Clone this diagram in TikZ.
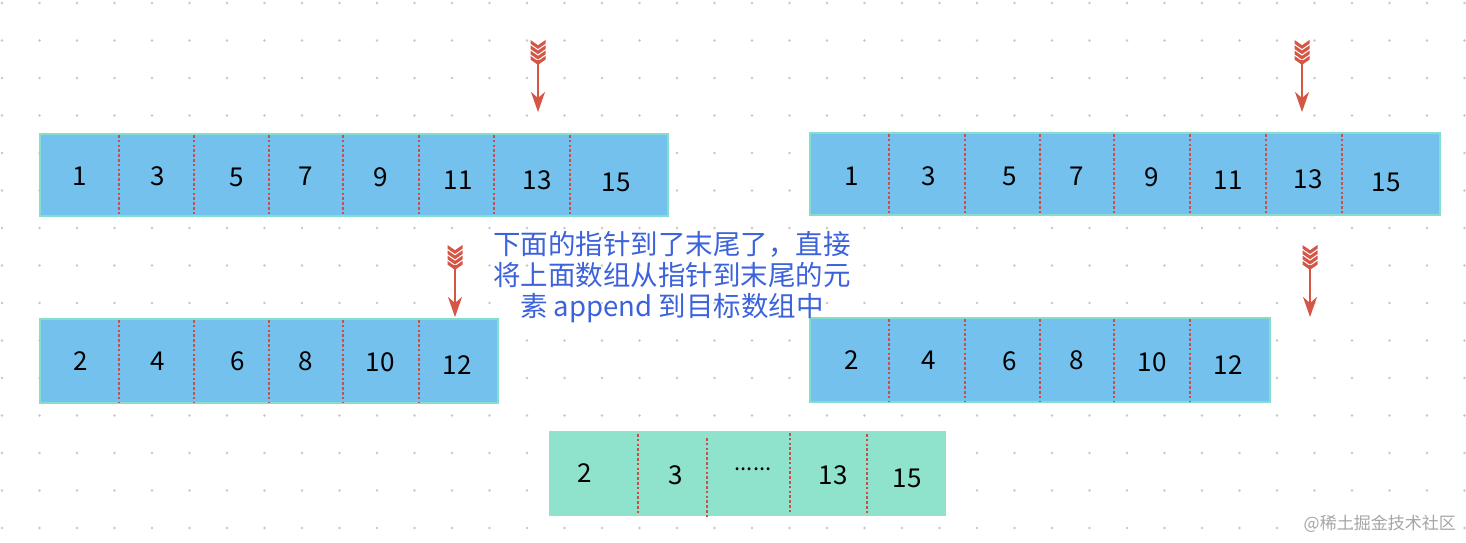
\documentclass[tikz,border=0pt]{standalone}
\usepackage{fontspec}
\setmainfont{Noto Sans CJK SC}
\usetikzlibrary{arrows.meta}
\definecolor{cellblue}{RGB}{116,193,238}
\definecolor{cellgreen}{RGB}{143,226,204}
\definecolor{edgeteal}{RGB}{132,222,204}
\definecolor{divred}{RGB}{200,80,72}
\definecolor{arrred}{RGB}{214,86,70}
\definecolor{txtblue}{RGB}{60,98,220}
\definecolor{dotgray}{RGB}{200,200,200}
\tikzset{
  arr/.style={draw=edgeteal, line width=2pt, fill=cellblue, inner sep=0pt},
  arrg/.style={draw=none, fill=cellgreen, inner sep=0pt},
  div/.style={draw=divred, line width=2.8pt, dash pattern=on 2.6pt off 2.2pt},
  num/.style={font=\fontsize{26}{30}\selectfont, text=black, inner sep=0pt},
  pointer/.pic={
    \foreach \k in {0,5.3,10.6,15.9}{
      \fill[arrred] (-7.5,\k) -- (0,\k+5.2) -- (7.5,\k) -- (7.5,\k+3.7) -- (0,\k+8.9) -- (-7.5,\k+3.7) -- cycle;
    }
    \draw[arrred, line width=1.8pt, -{Stealth[length=20pt,width=14pt,inset=6pt]}] (0,20) -- (0,72);
  }
}
\begin{document}
\begin{tikzpicture}[x=1pt,y=-1pt]
\useasboundingbox (0,0) rectangle (1466,542);
\fill[white] (0,0) rectangle (1466,542);
% dot grid
\foreach \i in {0,...,39}{
  \foreach \j in {0,...,14}{
    \fill[dotgray] (2+37.5*\i,3+37.5*\j) circle (1.4);
  }
}
% top-left array
\node[arr, minimum width=628pt, minimum height=82pt] (TL) at (354,175) {};
\foreach \x in {119,194,269,343,419,494,570}{\draw[div] (\x,135) -- (\x,215);}
\foreach \x/\y/\t in {80/176/1,158/176/3,237/177/5,306/176/7,381/177/9,458/180/11,537/180/13,616/182/15}{
  \node[num] at (\x,\y) {\t};
}
% top-right array
\node[arr, minimum width=630pt, minimum height=82pt] (TR) at (1125,174) {};
\foreach \x in {889,965,1040,1114,1190,1266,1342}{\draw[div] (\x,134) -- (\x,214);}
\foreach \x/\y/\t in {852/176/1,929/176/3,1010/176/5,1077/176/7,1152/177/9,1228/180/11,1308/179/13,1386/182/15}{
  \node[num] at (\x,\y) {\t};
}
% bottom-left array
\node[arr, minimum width=458pt, minimum height=84pt] (BL) at (269,361) {};
\foreach \x in {119,194,269,343,419}{\draw[div] (\x,320) -- (\x,402);}
\foreach \x/\y/\t in {81/361/2,158/361/4,238/361/6,306/361/8,380/362/10,457/365/12}{
  \node[num] at (\x,\y) {\t};
}
% bottom-right array
\node[arr, minimum width=460pt, minimum height=84pt] (BR) at (1040,360) {};
\foreach \x in {889,965,1040,1114,1190}{\draw[div] (\x,319) -- (\x,401);}
\foreach \x/\y/\t in {852/360/2,929/360/4,1010/361/6,1077/360/8,1152/362/10,1228/365/12}{
  \node[num] at (\x,\y) {\t};
}
% result array
\node[arrg, minimum width=397pt, minimum height=85pt] (R) at (747.5,473) {};
\draw[div] (638,434) -- (638,515);
\draw[div] (707,438) -- (707,518);
\draw[div] (790,433) -- (790,514);
\draw[div] (867,434) -- (867,515);
\node[num] (r1) at (585,473) {2};
\node[num] (r2) at (676,475) {3};
\node[num, font=\fontsize{22}{26}\selectfont] (r3) at (753,469) {......};
\node[num] (r4) at (833,475) {13};
\node[num] (r5) at (907,478) {15};
% pointers
\pic at (538,40) {pointer};
\pic at (1302,40) {pointer};
\pic at (455,245) {pointer};
\pic at (1310,245) {pointer};
% note
\node[text=txtblue, font=\fontsize{27.5}{31}\selectfont, align=center, inner sep=0pt] (note) at (672,277)
  {下面的指针到了末尾了，直接\\将上面数组从指针到末尾的元\\素 append 到目标数组中};
% watermark
\node[text=gray!70, font=\fontsize{17}{20}\selectfont, anchor=east, inner sep=0pt] (wm) at (1456,524) {@稀土掘金技术社区};
\end{tikzpicture}
\end{document}
